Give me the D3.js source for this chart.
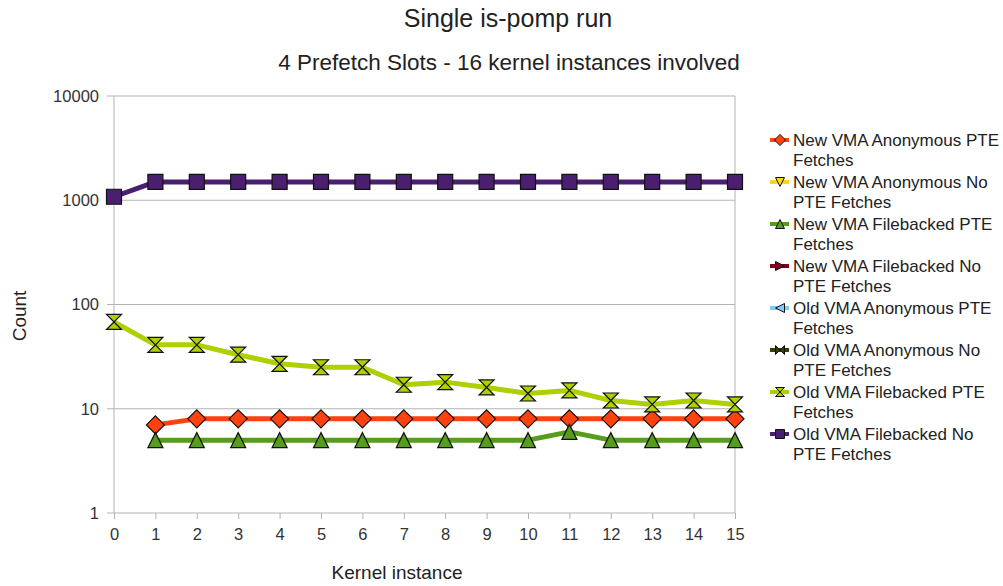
<!DOCTYPE html>
<html>
<head>
<meta charset="utf-8">
<script src="https://cdn.jsdelivr.net/npm/d3@7"></script>
<style>
  html, body { margin: 0; padding: 0; background: #fff; }
  svg { display: block; font-family: "Liberation Sans", Arial, sans-serif; }
</style>
</head>
<body>
<svg id="chart" width="1003" height="586"></svg>
<script>
// Kernel instances on the x axis
const instances = [0, 1, 2, 3, 4, 5, 6, 7, 8, 9, 10, 11, 12, 13, 14, 15];
const yTicks = [1, 10, 100, 1000, 10000];

// Per-instance counts (null = no sample for that instance)
const newAnonPte      = [null, 7, 8, 8, 8, 8, 8, 8, 8, 8, 8, 8, 8, 8, 8, 8];
const newAnonNoPte    = [0, 0, 0, 0, 0, 0, 0, 0, 0, 0, 0, 0, 0, 0, 0, 0];
const newFilePte      = [null, 5, 5, 5, 5, 5, 5, 5, 5, 5, 5, 6, 5, 5, 5, 5];
const newFileNoPte    = [0, 0, 0, 0, 0, 0, 0, 0, 0, 0, 0, 0, 0, 0, 0, 0];
const oldAnonPte      = [0, 0, 0, 0, 0, 0, 0, 0, 0, 0, 0, 0, 0, 0, 0, 0];
const oldAnonNoPte    = [0, 0, 0, 0, 0, 0, 0, 0, 0, 0, 0, 0, 0, 0, 0, 0];
const oldFilePte      = [68, 41, 41, 33, 27, 25, 25, 17, 18, 16, 14, 15, 12, 11, 12, 11];
const oldFileNoPte    = [1080, 1500, 1500, 1500, 1500, 1500, 1500, 1500, 1500, 1500, 1500, 1500, 1500, 1500, 1500, 1500];

const seriesNames = [
  "New VMA Anonymous PTE Fetches",
  "New VMA Anonymous No PTE Fetches",
  "New VMA Filebacked PTE Fetches",
  "New VMA Filebacked No PTE Fetches",
  "Old VMA Anonymous PTE Fetches",
  "Old VMA Anonymous No PTE Fetches",
  "Old VMA Filebacked PTE Fetches",
  "Old VMA Filebacked No PTE Fetches"
];
const seriesValues = [newAnonPte, newAnonNoPte, newFilePte, newFileNoPte,
                      oldAnonPte, oldAnonNoPte, oldFilePte, oldFileNoPte];
const seriesColors = ["#ff420e", "#ffd320", "#579d1c", "#7e0021",
                      "#83caff", "#314004", "#aecf00", "#4b1f6f"];
const seriesSymbols = ["diamond", "down", "up", "right", "left", "bowtie", "hourglass", "square"];

// Symbol outlines, r = half size
function symbolPath(type, r) {
  switch (type) {
    case "diamond": return `M0,${-r}L${r},0L0,${r}L${-r},0Z`;
    case "down": return `M${-r},${-r}L${r},${-r}L0,${r}Z`;
    case "up": return `M0,${-r}L${r},${r}L${-r},${r}Z`;
    case "right": return `M${-r},${-r}L${r},0L${-r},${r}Z`;
    case "left": return `M${r},${-r}L${-r},0L${r},${r}Z`;
    case "bowtie": return `M${-r},${-r}L${r},${r}L${r},${-r}L${-r},${r}Z`;
    case "hourglass": return `M${-r},${-r}L${r},${-r}L${-r},${r}L${r},${r}Z`;
    default: return `M${-r},${-r}H${r}V${r}H${-r}Z`;
  }
}

const svg = d3.select("#chart");
const plot = { left: 114, right: 735, top: 96, bottom: 513 };

const x = d3.scaleLinear().domain([0, 15]).range([plot.left, plot.right]);
const y = d3.scaleLog().domain([1, 10000]).range([plot.bottom, plot.top]);

// Titles
svg.append("text").attr("x", 508).attr("y", 27).attr("text-anchor", "middle")
  .attr("font-size", 25).attr("fill", "#222").text("Single is-pomp run");
svg.append("text").attr("x", 509).attr("y", 70).attr("text-anchor", "middle")
  .attr("font-size", 22.5).attr("fill", "#222").text("4 Prefetch Slots - 16 kernel instances involved");

// Horizontal grid lines at each decade
svg.append("g").selectAll("line").data(yTicks).join("line")
  .attr("x1", plot.left - 7).attr("x2", plot.right)
  .attr("y1", d => y(d)).attr("y2", d => y(d))
  .attr("stroke", "#b3b3b3").attr("stroke-width", 1);

// Axis frame lines
svg.append("line").attr("x1", plot.left).attr("x2", plot.left)
  .attr("y1", plot.top).attr("y2", plot.bottom).attr("stroke", "#b3b3b3");
svg.append("line").attr("x1", plot.right).attr("x2", plot.right)
  .attr("y1", plot.top).attr("y2", plot.bottom).attr("stroke", "#b3b3b3");

// Axes
const yAxis = d3.axisLeft(y).tickValues(yTicks).tickFormat(d3.format("d")).tickSize(0).tickPadding(15);
const gy = svg.append("g").attr("transform", `translate(${plot.left},0)`).call(yAxis);
gy.select(".domain").remove();
gy.selectAll("text").attr("font-size", 16.5).attr("fill", "#333").attr("font-family", "Liberation Sans, Arial, sans-serif");

const xAxis = d3.axisBottom(x).tickValues(instances).tickFormat(d3.format("d")).tickSize(6).tickPadding(9);
const gx = svg.append("g").attr("transform", `translate(0,${plot.bottom})`).call(xAxis);
gx.select(".domain").remove();
gx.selectAll("line").attr("stroke", "#b3b3b3");
gx.selectAll("text").attr("font-size", 16.5).attr("fill", "#333").attr("font-family", "Liberation Sans, Arial, sans-serif");

// Axis titles
svg.append("text").attr("x", 397).attr("y", 579).attr("text-anchor", "middle")
  .attr("font-size", 19).attr("fill", "#222").text("Kernel instance");
svg.append("text").attr("transform", "translate(26,316) rotate(-90)").attr("text-anchor", "middle")
  .attr("font-size", 19).attr("fill", "#222").text("Count");

// Series lines and markers
const line = d3.line()
  .defined(d => d.v != null && d.v > 0)
  .x(d => x(d.i)).y(d => y(d.v));

const gSeries = svg.append("g");
seriesValues.forEach((vals, k) => {
  const pts = instances.map((i, j) => ({ i, v: vals[j] }));
  gSeries.append("path").datum(pts).attr("d", line)
    .attr("fill", "none").attr("stroke", seriesColors[k]).attr("stroke-width", 5)
    .attr("stroke-linejoin", "round");
});
seriesValues.forEach((vals, k) => {
  const pts = instances.map((i, j) => ({ i, v: vals[j] })).filter(d => d.v != null && d.v > 0);
  gSeries.append("g").selectAll("path").data(pts).join("path")
    .attr("transform", d => `translate(${x(d.i)},${y(d.v)})`)
    .attr("d", symbolPath(seriesSymbols[k], seriesSymbols[k] === "diamond" ? 9 : 7.5))
    .attr("fill", seriesColors[k]).attr("stroke", "#111").attr("stroke-width", 1.2)
    .attr("stroke-linejoin", "miter");
});

// Legend
const legend = svg.append("g");
seriesNames.forEach((name, k) => {
  const cy = 140 + k * 42;
  const g = legend.append("g");
  g.append("line").attr("x1", 770).attr("x2", 789).attr("y1", cy).attr("y2", cy)
    .attr("stroke", seriesColors[k]).attr("stroke-width", 4);
  g.append("path").attr("transform", `translate(780,${cy})`)
    .attr("d", symbolPath(seriesSymbols[k], seriesSymbols[k] === "diamond" ? 5.5 : 4.5))
    .attr("fill", seriesColors[k]).attr("stroke", "#111").attr("stroke-width", 1);
  // Labels wrap over two lines inside the legend column
  const words = name.split(" ");
  const firstLine = name.endsWith("No PTE Fetches") ? words.slice(0, -2).join(" ") : words.slice(0, -1).join(" ");
  const secondLine = name.slice(firstLine.length + 1);
  const t = g.append("text").attr("x", 793).attr("y", cy + 6).attr("font-size", 17).attr("fill", "#222");
  t.append("tspan").attr("x", 793).text(firstLine);
  t.append("tspan").attr("x", 793).attr("dy", 20).text(secondLine);
});
</script>
</body>
</html>
